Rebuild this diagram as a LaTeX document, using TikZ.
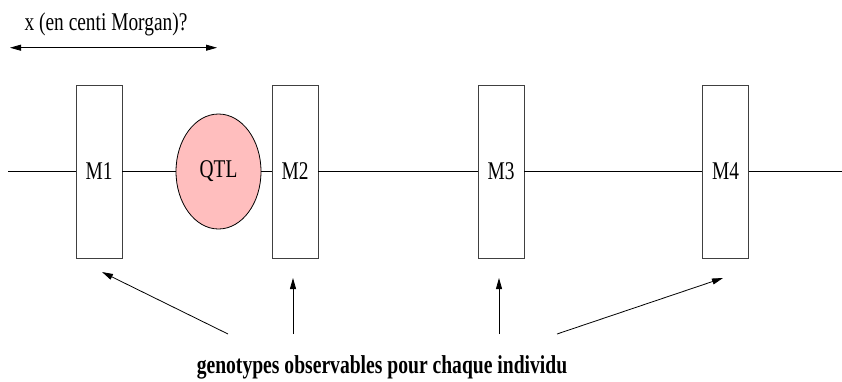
\documentclass[tikz,border=0pt]{standalone}
\usepackage{fontspec}
\setmainfont{Liberation Serif}
\usetikzlibrary{arrows.meta,shapes.geometric}
\definecolor{qtlpink}{RGB}{255,190,190}
\newcommand{\cond}[1]{\scalebox{0.76}[1]{#1}}
\tikzset{
  marker/.style={draw=black!75, line width=0.8pt, minimum width=46pt, minimum height=173pt, inner sep=0pt,
    font=\fontsize{25.5}{25.5}\selectfont},
  qtl/.style={draw=black, line width=0.8pt, ellipse, fill=qtlpink, minimum width=85pt, minimum height=115pt, inner sep=0pt,
    font=\fontsize{25.5}{25.5}\selectfont},
  chrom/.style={line width=0.8pt, black},
  pointer/.style={line width=0.8pt, -{Triangle[length=11pt,width=6pt]}},
  lbl/.style={inner sep=0pt, font=\fontsize{25.5}{25.5}\selectfont}
}
\begin{document}
\begin{tikzpicture}[x=1pt,y=-1pt]
\useasboundingbox (0,0) rectangle (842,381);
% markers
\node[marker] (M1) at (99,171.5) {\cond{M1}};
\node[qtl] (Q) at (218.5,171.5) {\cond{\raisebox{-2pt}{QTL}}};
\node[marker] (M2) at (295,171.5) {\cond{M2}};
\node[marker] (M3) at (501,171.5) {\cond{M3}};
\node[marker] (M4) at (725.5,171.5) {\cond{M4}};
\coordinate (L) at (8,171.5);
\coordinate (R) at (842,171.5);
% chromosome line
\draw[chrom] (L) -- (M1);
\draw[chrom] (M1) -- (Q);
\draw[chrom] (Q) -- (M2);
\draw[chrom] (M2) -- (M3);
\draw[chrom] (M3) -- (M4);
\draw[chrom] (M4) -- (R);
% distance
\node[lbl, anchor=base] (xl) at (106,30.5) {\cond{x (en centi Morgan)?}};
\coordinate (dA) at (10,47.7);
\coordinate (dB) at (217,47.7);
\draw[line width=0.8pt, {Triangle[length=11pt,width=6pt]}-{Triangle[length=11pt,width=6pt]}] (dA) -- (dB);
% bottom label
\node[lbl, anchor=base, font=\fontsize{25.8}{25.8}\selectfont\bfseries] (G) at (382,373) {\cond{genotypes observables pour chaque individu}};
\coordinate (t1) at (228,334);
\coordinate (t2) at (293,334);
\coordinate (t3) at (499,334);
\coordinate (t4) at (557,334);
\coordinate (h1) at (102,272);
\coordinate (h2) at (293,278);
\coordinate (h3) at (499,278);
\coordinate (h4) at (723,278);
\draw[pointer] (t1) -- (h1);
\draw[pointer] (t2) -- (h2);
\draw[pointer] (t3) -- (h3);
\draw[pointer] (t4) -- (h4);
\end{tikzpicture}
\end{document}
